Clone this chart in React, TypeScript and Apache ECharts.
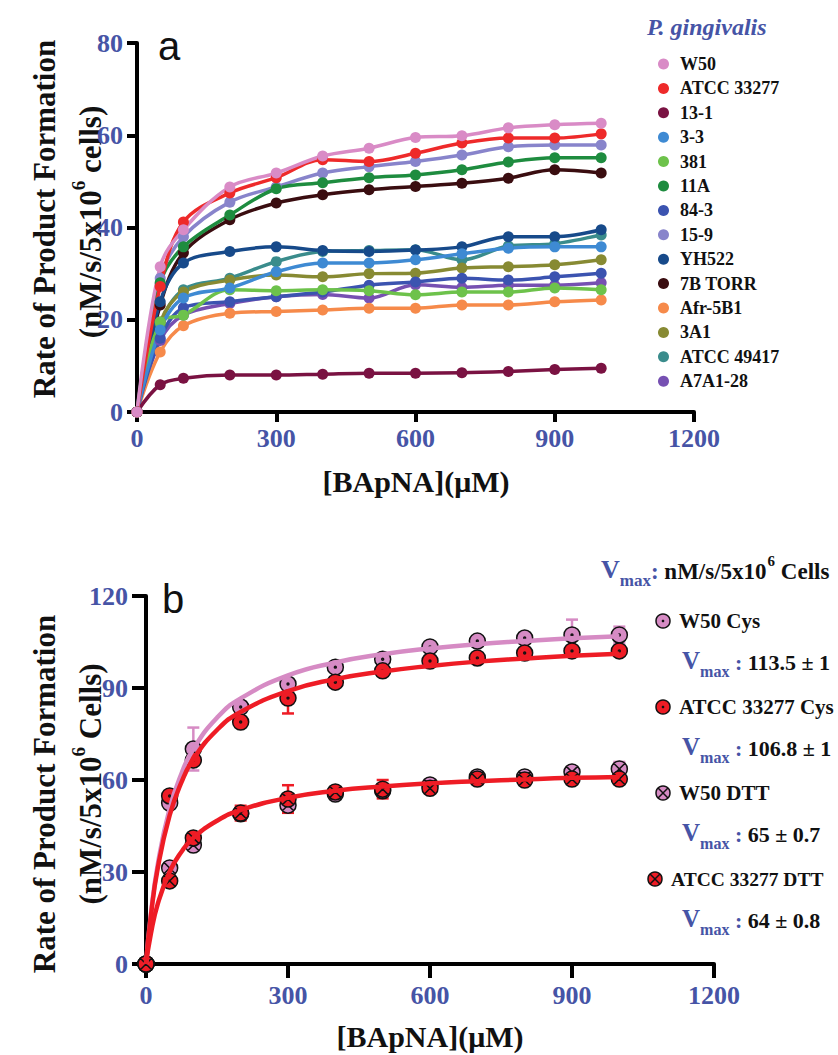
import React, { useEffect, useRef } from "react";
import * as echarts from "echarts";

const SERIF = "Liberation Serif";
const SANS = "Liberation Sans";
const BLUE = "#4654A6";

// ---------- Panel a ----------
const concA = [0, 50, 100, 200, 300, 400, 500, 600, 700, 800, 900, 1000];
const strainNames = ["W50", "ATCC 33277", "13-1", "3-3", "381", "11A", "84-3", "15-9", "YH522", "7B TORR", "Afr-5B1", "3A1", "ATCC 49417", "A7A1-28"];
const strainColors = ["#D98BC6", "#EE2A2A", "#7A1242", "#3E8AD3", "#6DC24B", "#1E8C3F", "#3B53B0", "#8884CB", "#174A8A", "#3A0D10", "#F68A4A", "#878A33", "#3A8C8C", "#7650B2"];
const rateW50 = [0, 31.5, 39.5, 48.8, 51.8, 55.5, 57.2, 59.5, 59.9, 61.6, 62.3, 62.6];
const rateAtcc33277 = [0, 27.2, 41.2, 47.5, 50.8, 54.7, 54.3, 56.1, 58.3, 59.4, 59.4, 60.3];
const rate13_1 = [0, 5.9, 7.3, 8.0, 8.0, 8.2, 8.4, 8.4, 8.5, 8.8, 9.2, 9.5];
const rate3_3 = [0, 17.8, 24.7, 26.9, 30.4, 32.3, 32.3, 33.0, 34.3, 35.5, 35.8, 35.8];
const rate381 = [0, 19.5, 21.0, 26.5, 26.3, 26.5, 26.3, 25.4, 26.0, 26.0, 26.9, 26.5];
const rate11A = [0, 28.0, 35.8, 42.7, 48.4, 49.7, 50.8, 51.4, 52.5, 54.2, 55.1, 55.1];
const rate84_3 = [0, 16.0, 22.6, 23.9, 25.0, 26.0, 27.5, 28.2, 29.0, 28.6, 29.3, 30.1];
const rate15_9 = [0, 29.0, 38.0, 45.5, 48.8, 51.8, 53.2, 54.3, 55.7, 57.5, 57.9, 57.9];
const rateYH522 = [0, 23.9, 32.3, 34.8, 35.8, 35.0, 34.8, 35.1, 35.8, 38.0, 38.0, 39.5];
const rate7BTorr = [0, 23.2, 34.5, 41.7, 45.3, 47.1, 48.2, 48.9, 49.6, 50.7, 52.5, 51.8];
const rateAfr5B1 = [0, 13.0, 18.7, 21.4, 21.8, 22.1, 22.5, 22.5, 23.2, 23.2, 23.9, 24.3];
const rate3A1 = [0, 19.5, 26.0, 28.6, 29.7, 29.3, 30.0, 30.1, 31.2, 31.5, 31.9, 33.0];
const rateAtcc49417 = [0, 19.0, 26.5, 29.0, 32.6, 34.8, 35.0, 35.2, 33.0, 36.0, 36.5, 38.4];
const rateA7A1_28 = [0, 15.5, 21.0, 23.5, 25.0, 25.5, 24.7, 27.6, 27.0, 27.5, 27.5, 28.0];
const strainRates = [rateW50, rateAtcc33277, rate13_1, rate3_3, rate381, rate11A, rate84_3, rate15_9, rateYH522, rate7BTorr, rateAfr5B1, rate3A1, rateAtcc49417, rateA7A1_28];

// ---------- Panel b ----------
const concB = [0, 50, 100, 200, 300, 400, 500, 600, 700, 800, 900, 1000];
const bNames = ["W50 Cys", "ATCC 33277 Cys", "W50 DTT", "ATCC 33277 DTT"];
const bVmax = ["113.5 ± 1", "106.8 ± 1", "65 ± 0.7", "64 ± 0.8"];
const bColors = ["#D68BC4", "#EE1C25", "#D68BC4", "#EE1C25"];
const bKinds = ["dot", "dot", "cross", "cross"];
const w50Cys = [0, 52.5, 70.1, 83.8, 91.3, 96.8, 99.4, 103.4, 105.3, 106.3, 107.3, 107.3];
const atccCys = [0, 54.8, 66.5, 78.9, 86.7, 91.9, 95.6, 98.8, 99.8, 101.4, 102.1, 102.1];
const w50Dtt = [0, 31.3, 38.8, 49.0, 51.8, 55.4, 56.5, 58.4, 61.0, 61.0, 62.6, 63.6];
const atccDtt = [0, 27.1, 41.1, 49.2, 53.8, 56.1, 57.0, 57.3, 60.3, 60.0, 60.3, 60.3];
const w50CysErr = [0, 0, 7, 1, 1.5, 1, 1, 1, 1, 1, 5, 2.7];
const atccCysErr = [0, 0, 1, 1, 5, 1, 1, 1, 1, 1, 1, 1];
const w50DttErr = [0, 0, 0, 1, 2, 1, 1, 1, 1, 1, 1, 2.3];
const atccDttErr = [0, 0, 0, 2.4, 4.5, 1, 3, 1, 1, 1, 1, 1];
const bValues = [w50Cys, atccCys, w50Dtt, atccDtt];
const bErrors = [w50CysErr, atccCysErr, w50DttErr, atccDttErr];

// fitted curves
const fitConc = [0, 10, 25, 50, 75, 100, 150, 200, 300, 400, 500, 600, 700, 800, 900, 1000];
const fitW50Cys = [0, 15.8, 32.6, 50.7, 62.1, 70.1, 80.3, 86.6, 94.1, 98.3, 101.0, 102.9, 104.3, 105.3, 106.2, 106.9];
const fitAtccCys = [0, 15.3, 31.4, 48.5, 59.3, 66.8, 76.3, 82.2, 89.0, 92.9, 95.4, 97.2, 98.6, 99.6, 100.5, 101.2];
const fitDtt = [0, 9.6, 19.7, 30.1, 36.6, 41.1, 46.7, 50.2, 54.2, 56.5, 57.9, 58.9, 59.6, 60.2, 60.7, 61.0];

const xTicksA = { min: 0, max: 1200, interval: 300 };
const yTicksA = { min: 0, max: 80, interval: 20 };
const xTicksB = { min: 0, max: 1200, interval: 300 };
const yTicksB = { min: 0, max: 120, interval: 30 };

const DOT_SYMBOL = "path://M10 0A10 10 0 1 1 10 20A10 10 0 1 1 10 0ZM10 8.8A1.2 1.2 0 1 1 10 11.2A1.2 1.2 0 1 1 10 8.8Z";
const CROSS_SYMBOL = "path://M10 0A10 10 0 1 1 10 20A10 10 0 1 1 10 0ZM2.93 2.93L17.07 17.07M17.07 2.93L2.93 17.07";

function axisStyle(tickLen: number, margin: number) {
  return {
    axisLine: { show: true, onZero: false, lineStyle: { color: "#000", width: 4 } },
    axisTick: { show: true, length: tickLen, lineStyle: { color: "#000", width: 4 } },
    axisLabel: { color: BLUE, fontFamily: SERIF, fontWeight: "bold", fontSize: 26, margin, formatter: (v: number) => String(v) },
    splitLine: { show: false },
  };
}

function txt(x: number, y: number, text: string, size: number, opts: any = {}) {
  return {
    type: "text",
    x,
    y,
    rotation: opts.rotation || 0,
    silent: true,
    style: {
      text,
      fontFamily: opts.family || SERIF,
      fontWeight: opts.weight || "bold",
      fontStyle: opts.italic ? "italic" : "normal",
      fontSize: size,
      fill: opts.fill || "#111",
      align: opts.align || "left",
      textAlign: opts.align || "left",
      verticalAlign: "middle",
      textVerticalAlign: "middle",
      rich: opts.rich,
    },
  };
}

function marker(cx: number, cy: number, fill: string, kind: string) {
  const r = 7;
  const children: any[] = [{ type: "circle", shape: { cx, cy, r }, style: { fill, stroke: "#111", lineWidth: 1.5 } }];
  if (kind === "dot") {
    children.push({ type: "circle", shape: { cx, cy, r: 1.3 }, style: { fill: "#111" } });
  } else {
    const d = r * 0.707;
    children.push({ type: "line", shape: { x1: cx - d, y1: cy - d, x2: cx + d, y2: cy + d }, style: { stroke: "#111", lineWidth: 1.5 } });
    children.push({ type: "line", shape: { x1: cx + d, y1: cy - d, x2: cx - d, y2: cy + d }, style: { stroke: "#111", lineWidth: 1.5 } });
  }
  return { type: "group", silent: true, children };
}

export default function App() {
  const ref = useRef<HTMLDivElement>(null);
  useEffect(() => {
    const chart = echarts.init(ref.current!, null, { renderer: "svg" });

    const seriesA: any[] = [];
    for (let i = strainNames.length - 1; i >= 0; i--) {
      seriesA.push({
        name: strainNames[i],
        type: "line",
        xAxisIndex: 0,
        yAxisIndex: 0,
        data: concA.map((c, k) => [c, strainRates[i][k]]),
        smooth: 0.35,
        symbol: "circle",
        symbolSize: 11,
        showSymbol: true,
        color: strainColors[i],
        lineStyle: { width: 3.5, color: strainColors[i] },
        itemStyle: { color: strainColors[i] },
      });
    }

    const fitSeries = [
      { vals: fitW50Cys, color: bColors[0] },
      { vals: fitAtccCys, color: bColors[1] },
      { vals: fitDtt, color: bColors[3] },
    ].map((f) => ({
      type: "line",
      xAxisIndex: 1,
      yAxisIndex: 1,
      data: fitConc.map((c, k) => [c, f.vals[k]]),
      smooth: true,
      showSymbol: false,
      symbol: "none",
      lineStyle: { width: 4.5, color: f.color },
      silent: true,
    }));

    const errSeries = bValues.map((vals, s) => ({
      type: "custom",
      xAxisIndex: 1,
      yAxisIndex: 1,
      silent: true,
      data: concB.map((c, k) => [c, vals[k], bErrors[s][k]]).filter((d) => d[2] > 0),
      encode: { x: 0, y: 1 },
      renderItem: (params: any, api: any) => {
        const x = api.value(0);
        const y = api.value(1);
        const e = api.value(2);
        const top = api.coord([x, y + e]);
        const bot = api.coord([x, y - e]);
        const w = 6;
        const st = { stroke: bColors[s], lineWidth: 2.5 };
        return {
          type: "group",
          children: [
            { type: "line", shape: { x1: top[0], y1: top[1], x2: bot[0], y2: bot[1] }, style: st },
            { type: "line", shape: { x1: top[0] - w, y1: top[1], x2: top[0] + w, y2: top[1] }, style: st },
            { type: "line", shape: { x1: bot[0] - w, y1: bot[1], x2: bot[0] + w, y2: bot[1] }, style: st },
          ],
        };
      },
    }));

    const pointSeries = bValues.map((vals, s) => ({
      name: bNames[s],
      type: "scatter",
      xAxisIndex: 1,
      yAxisIndex: 1,
      data: concB.map((c, k) => [c, vals[k]]),
      symbol: bKinds[s] === "dot" ? DOT_SYMBOL : CROSS_SYMBOL,
      symbolSize: 16,
      itemStyle: { color: bColors[s], borderColor: "#111", borderWidth: 1.5, opacity: 1 },
    }));

    const richV = (n: number) => ({
      v: { fontFamily: SERIF, fontWeight: "bold", fontSize: n + 3, fill: BLUE, lineHeight: n + 6, verticalAlign: "bottom" },
      s: { fontFamily: SERIF, fontWeight: "bold", fontSize: Math.round(n * 0.72), fill: BLUE, lineHeight: n - 1, verticalAlign: "bottom", padding: [0, 0, -6, 0] },
      c: { fontFamily: SERIF, fontWeight: "bold", fontSize: n, fill: BLUE, lineHeight: n + 6, verticalAlign: "bottom" },
      n: { fontFamily: SERIF, fontWeight: "bold", fontSize: n, fill: "#111", lineHeight: n + 6, verticalAlign: "bottom" },
      p: { fontFamily: SERIF, fontWeight: "bold", fontSize: Math.round(n * 0.66), fill: "#111", lineHeight: n + 6, verticalAlign: "top", padding: [0, 0, 0, 1] },
    });
    const richTitle = (size: number) => ({
      n: { fontFamily: SERIF, fontWeight: "bold", fontSize: size, fill: "#111", lineHeight: size + 6, verticalAlign: "bottom" },
      p: { fontFamily: SERIF, fontWeight: "bold", fontSize: Math.round(size * 0.6), fill: "#111", lineHeight: size + 6, verticalAlign: "top" },
    });

    const graphics: any[] = [
      txt(158, 46, "a", 40, { family: SANS, weight: "normal" }),
      txt(162, 599, "b", 40, { family: SANS, weight: "normal" }),
      txt(44, 219, "Rate of Product Formation", 31, { rotation: Math.PI / 2, align: "center" }),
      txt(87, 222, "{n|(nM/s/5x10}{p|6}{n| cells)}", 31, { rotation: Math.PI / 2, align: "center", rich: richTitle(31) }),
      txt(416, 481, "[BApNA](μM)", 30, { align: "center" }),
      txt(44, 794, "Rate of Product Formation", 31, { rotation: Math.PI / 2, align: "center" }),
      txt(87, 784, "{n|(nM/s/5x10}{p|6}{n| Cells)}", 31, { rotation: Math.PI / 2, align: "center", rich: richTitle(31) }),
      txt(430, 1036, "[BApNA](μM)", 30, { align: "center" }),
      txt(647, 27, "P. gingivalis", 24, { italic: true, fill: BLUE }),
      txt(601, 568, "{v|V}{s|max}{c|: }{n|nM/s/5x10}{p|6}{n| Cells}", 23, { rich: richV(23) }),
    ];
    bNames.forEach((nm, i) => {
      const sy = 621 + i * 86;
      const sx = i === 3 ? 655 : 663;
      graphics.push(marker(sx, sy, bColors[i], bKinds[i]));
      graphics.push(txt(sx + 16, sy, nm, i === 3 ? 19.5 : 21));
      graphics.push(txt(682, sy + 38, `{v|V}{s|max}{c| : }{n|${bVmax[i]}}`, 22, { rich: richV(22) }));
    });

    const option: any = {
      animation: false,
      backgroundColor: "#fff",
      textStyle: { fontFamily: SERIF },
      grid: [
        { left: 137, top: 43, width: 557, height: 369, containLabel: false },
        { left: 146, top: 596, width: 568, height: 368, containLabel: false },
      ],
      xAxis: [
        { gridIndex: 0, type: "value", ...xTicksA, ...axisStyle(10, 13) },
        { gridIndex: 1, type: "value", ...xTicksB, ...axisStyle(14, 18) },
      ],
      yAxis: [
        { gridIndex: 0, type: "value", ...yTicksA, ...axisStyle(10, 14) },
        { gridIndex: 1, type: "value", ...yTicksB, ...axisStyle(14, 18) },
      ],
      legend: {
        data: strainNames,
        orient: "vertical",
        left: 653,
        top: 50,
        itemWidth: 15,
        itemHeight: 11,
        itemGap: 6.4,
        icon: "circle",
        selectedMode: false,
        textStyle: { fontFamily: SERIF, fontWeight: "bold", fontSize: 18, color: "#111", lineHeight: 18, padding: [0, 0, 0, 4] },
      },
      series: [...seriesA, ...fitSeries, ...errSeries, ...pointSeries],
      graphic: graphics,
    };
    chart.setOption(option);
    return () => chart.dispose();
  }, []);
  return <div ref={ref} style={{ position: "fixed", left: 0, top: 0, width: 838, height: 1055, background: "#fff" }} />;
}
